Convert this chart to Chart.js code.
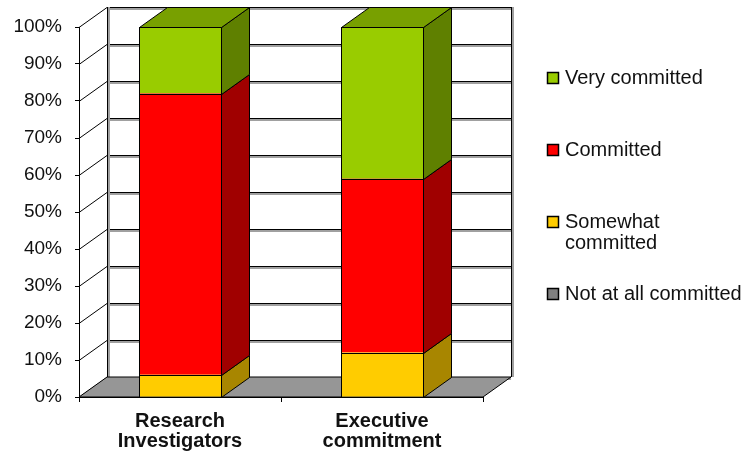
<!DOCTYPE html>
<html>
<head>
<meta charset="utf-8">
<script src="https://cdn.jsdelivr.net/npm/chart.js@4.4.1/dist/chart.umd.min.js"></script>
<style>
  html, body { margin: 0; padding: 0; background: #fff; }
  #wrap { width: 743px; height: 454px; position: relative; }
</style>
</head>
<body>
<div id="wrap"><canvas id="commitChart"></canvas></div>
<script>
const categories = [["Research", "Investigators"], ["Executive", "commitment"]];

// stacked bottom to top
const seriesNames = ["Not at all committed", "Somewhat\ncommitted", "Committed", "Very committed"];
const notAtAll = [0, 0];
const somewhat = [6, 12];
const committed = [76, 47];
const veryCommitted = [18, 41];

const yTicks = [0, 10, 20, 30, 40, 50, 60, 70, 80, 90, 100];

// front / side / top shades for each series
const shades = [
  { front: "#808080", side: "#5a5a5a", top: "#6e6e6e" },
  { front: "#ffcc00", side: "#a88600", top: "#c9a200" },
  { front: "#ff0000", side: "#a00000", top: "#c00000" },
  { front: "#99cc00", side: "#5f8000", top: "#78a000" }
];

const DEPTH_X = 28;
const DEPTH_Y = -20;
const FONT = "'Liberation Sans', Arial, sans-serif";

// back wall, left wall and floor behind the bars
const walls = {
  id: "walls",
  beforeDatasetsDraw(chart) {
    const { ctx, chartArea: a, scales: { y } } = chart;
    const y0 = y.getPixelForValue(0);
    ctx.save();
    ctx.lineWidth = 1;

    yTicks.forEach(v => {
      const py = Math.round(y.getPixelForValue(v)) + 0.5;
      // soft shadow under each back gridline
      ctx.strokeStyle = "#a0a0a0";
      ctx.lineWidth = 2;
      ctx.beginPath();
      ctx.moveTo(a.left + DEPTH_X, py + DEPTH_Y + 1.5);
      ctx.lineTo(a.right + DEPTH_X, py + DEPTH_Y + 1.5);
      ctx.stroke();
      ctx.strokeStyle = "#000";
      ctx.lineWidth = 1;
      ctx.beginPath();
      ctx.moveTo(a.left + DEPTH_X, py + DEPTH_Y);
      ctx.lineTo(a.right + DEPTH_X, py + DEPTH_Y);
      ctx.stroke();
      // left wall
      ctx.beginPath();
      ctx.moveTo(a.left, py);
      ctx.lineTo(a.left + DEPTH_X, py + DEPTH_Y);
      ctx.stroke();
    });

    const top = y.getPixelForValue(100) + DEPTH_Y;
    [a.left + DEPTH_X, a.right + DEPTH_X].forEach(px => {
      px = Math.round(px) + 0.5;
      ctx.strokeStyle = "#a0a0a0";
      ctx.lineWidth = 2;
      ctx.beginPath();
      ctx.moveTo(px + 1.5, top);
      ctx.lineTo(px + 1.5, y0 + DEPTH_Y);
      ctx.stroke();
      ctx.strokeStyle = "#000";
      ctx.lineWidth = 1;
      ctx.beginPath();
      ctx.moveTo(px, top);
      ctx.lineTo(px, y0 + DEPTH_Y);
      ctx.stroke();
    });

    // floor
    ctx.fillStyle = "#969696";
    ctx.strokeStyle = "#000";
    ctx.beginPath();
    ctx.moveTo(a.left, y0);
    ctx.lineTo(a.right, y0);
    ctx.lineTo(a.right + DEPTH_X, y0 + DEPTH_Y);
    ctx.lineTo(a.left + DEPTH_X, y0 + DEPTH_Y);
    ctx.closePath();
    ctx.fill();
    ctx.stroke();
    ctx.restore();
  }
};

// outlines, side and top faces of the columns
const columnDepth = {
  id: "columnDepth",
  afterDatasetsDraw(chart) {
    const { ctx } = chart;
    const n = chart.data.labels.length;
    ctx.save();
    ctx.lineWidth = 1;
    ctx.strokeStyle = "#000";
    for (let i = 0; i < n; i++) {
      let topEl = null, topIdx = -1;
      chart.data.datasets.forEach((ds, di) => {
        const el = chart.getDatasetMeta(di).data[i];
        const p = el.getProps(["x", "y", "base", "width"], true);
        if (Math.abs(p.base - p.y) < 0.5) return;
        const xl = Math.round(p.x - p.width / 2) + 0.5;
        const xr = Math.round(p.x + p.width / 2) + 0.5;
        const yt = Math.round(p.y) + 0.5;
        const yb = Math.round(p.base) + 0.5;
        ctx.fillStyle = shades[di].side;
        ctx.beginPath();
        ctx.moveTo(xr, yt);
        ctx.lineTo(xr + DEPTH_X, yt + DEPTH_Y);
        ctx.lineTo(xr + DEPTH_X, yb + DEPTH_Y);
        ctx.lineTo(xr, yb);
        ctx.closePath();
        ctx.fill();
        ctx.stroke();
        ctx.strokeRect(xl, yt, xr - xl, yb - yt);
        topEl = { xl, xr, yt }; topIdx = di;
      });
      if (topEl) {
        const { xl, xr, yt } = topEl;
        ctx.fillStyle = shades[topIdx].top;
        ctx.beginPath();
        ctx.moveTo(xl, yt);
        ctx.lineTo(xr, yt);
        ctx.lineTo(xr + DEPTH_X, yt + DEPTH_Y);
        ctx.lineTo(xl + DEPTH_X, yt + DEPTH_Y);
        ctx.closePath();
        ctx.fill();
        ctx.stroke();
      }
    }
    ctx.restore();
  }
};

// legend on the right, top series first
const sideLegend = {
  id: "sideLegend",
  afterDraw(chart) {
    const { ctx } = chart;
    const x = 547, startY = 78, step = 72, lineH = 21;
    ctx.save();
    ctx.font = "20px " + FONT;
    ctx.textBaseline = "middle";
    const order = chart.data.datasets.map((_, i) => i).reverse();
    order.forEach((di, row) => {
      const cy = startY + row * step;
      ctx.fillStyle = shades[di].front;
      ctx.fillRect(x + 0.5, cy - 5.5, 11, 11);
      ctx.strokeStyle = "#000";
      ctx.lineWidth = 1.5;
      ctx.strokeRect(x + 0.5, cy - 5.5, 11, 11);
      ctx.fillStyle = "#111";
      seriesNames[di].split("\n").forEach((line, li) => {
        ctx.fillText(line, x + 18, cy + li * lineH);
      });
    });
    ctx.restore();
  }
};

const seriesValues = [notAtAll, somewhat, committed, veryCommitted];

new Chart(document.getElementById("commitChart"), {
  type: "bar",
  data: {
    labels: categories,
    datasets: seriesValues.map((vals, i) => ({
      label: seriesNames[i].replace("\n", " "),
      data: vals,
      backgroundColor: shades[i].front,
      borderWidth: 0,
      barPercentage: 0.406,
      categoryPercentage: 1
    }))
  },
  options: {
    responsive: true,
    maintainAspectRatio: false,
    animation: false,
    layout: { padding: { top: 27, right: 260, left: 0, bottom: 0 } },
    plugins: { legend: { display: false }, tooltip: { enabled: false } },
    scales: {
      x: {
        stacked: true,
        grid: { display: true, drawOnChartArea: false, tickLength: 5, color: "#000" },
        border: { display: true, color: "#000" },
        ticks: {
          color: "#111",
          padding: 9,
          font: { family: FONT, size: 20, weight: "bold", lineHeight: 1.0 }
        },
        afterFit(scale) { scale.height = 57; }
      },
      y: {
        stacked: true,
        min: 0,
        max: 100,
        grid: { display: true, drawOnChartArea: false, tickLength: 4, color: "#000" },
        border: { display: true, color: "#000" },
        ticks: {
          stepSize: 10,
          color: "#111",
          padding: 13,
          font: { family: FONT, size: 19 },
          callback: v => v + "%"
        },
        afterFit(scale) { scale.width = 79; }
      }
    }
  },
  plugins: [walls, columnDepth, sideLegend]
});
</script>
</body>
</html>
